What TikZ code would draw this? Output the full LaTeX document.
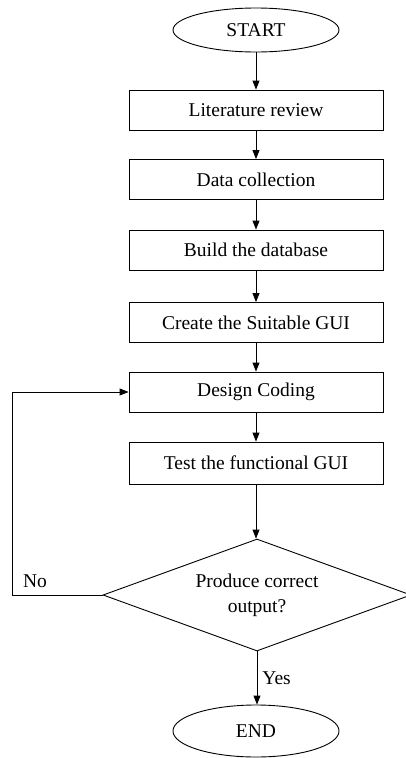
\documentclass[tikz,border=0pt]{standalone}
\usepackage{fontspec}
\setmainfont{Liberation Serif}
\usetikzlibrary{shapes.geometric,arrows.meta}
\begin{document}
\begin{tikzpicture}[x=1pt,y=-1pt,
  txt/.style={font=\fontsize{19.5}{25}\selectfont},
  box/.style={draw, line width=0.9pt, minimum width=254pt, minimum height=40pt, inner sep=0pt, txt},
  term/.style={draw, ellipse, line width=0.9pt, minimum width=166pt, inner sep=0pt, txt},
  dec/.style={draw, diamond, aspect=2.77, line width=0.9pt, minimum width=308pt, minimum height=112pt, inner sep=0pt, align=center, txt},
  arr/.style={-{Triangle[length=9pt,width=7pt]}, line width=0.9pt},
  lbl/.style={txt, inner sep=0pt}
]
\useasboundingbox (0,0) rectangle (405,758);
\node[term, minimum height=44pt] (start) at (256,30) {START};
\node[box] (b1) at (256,110) {Literature review};
\node[box] (b2) at (256,179.5) {Data collection};
\node[box] (b3) at (256,250) {Build the database};
\node[box] (b4) at (256,322.5) {Create the Suitable GUI};
\node[box] (b5) at (256,392) {Design Coding};
\node[box, minimum height=42pt] (b6) at (256,463) {Test the functional GUI};
\node[dec] (dec) at (257,595) {Produce correct\\output?};
\node[term, minimum height=52pt] (end) at (256,731) {END};
\coordinate (loop) at (12,595);

\draw[arr] (start) -- (b1);
\draw[arr] (b1) -- (b2);
\draw[arr] (b2) -- (b3);
\draw[arr] (b3) -- (b4);
\draw[arr] (b4) -- (b5);
\draw[arr] (b5) -- (b6);
\draw[arr] (b6.south) -- (b6.south |- dec.north);
\draw[arr] (dec.south) -- (dec.south |- end.north) node[lbl, pos=0.5, right=5pt] (yes) {Yes};
\draw[arr] (dec.west) -- (loop) |- (b5.west);
\node[lbl] (no) at (35,581) {No};
\end{tikzpicture}
\end{document}
